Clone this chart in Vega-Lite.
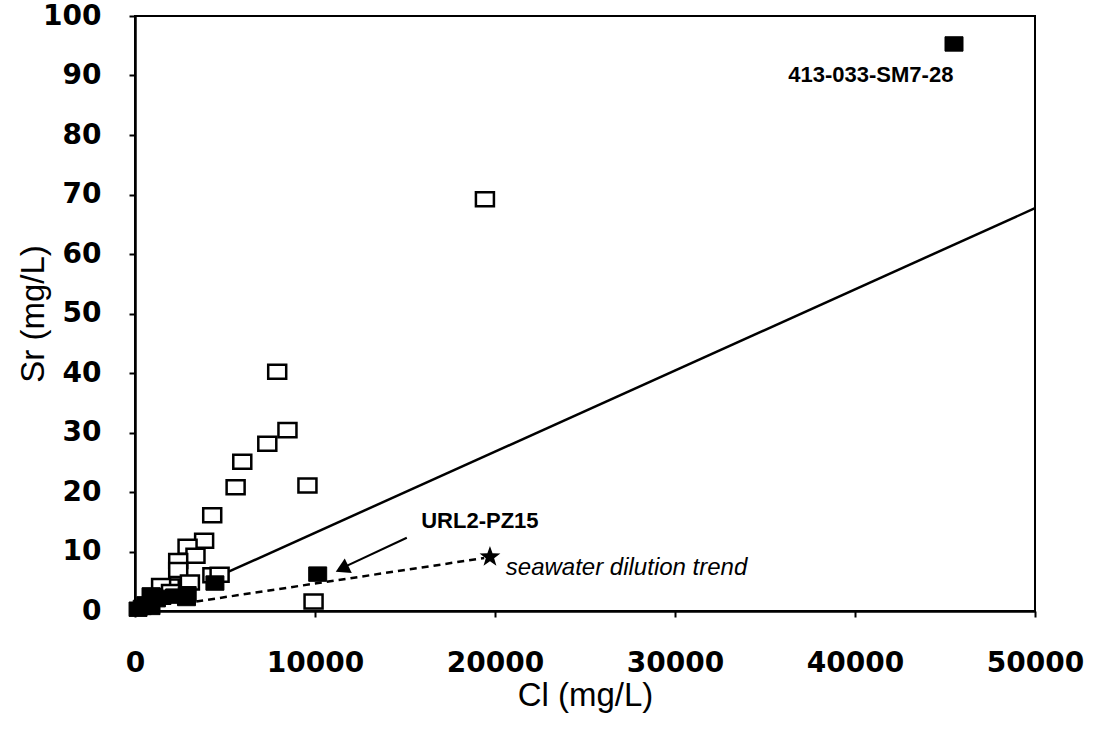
{
  "$schema": "https://vega.github.io/schema/vega-lite/v6.json",
  "width": 900,
  "height": 595,
  "autosize": {"type": "none"},
  "padding": {"left": 135, "top": 16, "right": 65, "bottom": 125},
  "background": "white",
  "config": {
    "view": {"stroke": "black", "strokeWidth": 2},
    "axis": {
      "grid": false,
      "labelFlush": false,
      "labelOverlap": false,
      "domainColor": "black",
      "domainWidth": 2.5,
      "tickColor": "black",
      "tickWidth": 2,
      "tickSize": 6,
      "labelFont": "DejaVu Sans",
      "labelFontWeight": "bold",
      "labelFontSize": 28,
      "labelColor": "black",
      "titleFont": "Liberation Sans",
      "titleFontWeight": "normal",
      "titleFontSize": 33,
      "titleColor": "black"
    }
  },
  "encoding": {
    "x": {
      "field": "x",
      "type": "quantitative",
      "scale": {"domain": [0, 50000], "nice": false, "zero": false},
      "axis": {
        "orient": "bottom",
        "values": [0, 10000, 20000, 30000, 40000, 50000],
        "format": "d",
        "labelPadding": 32,
        "titlePadding": 2,
        "title": "Cl (mg/L)"
      }
    },
    "y": {
      "field": "y",
      "type": "quantitative",
      "scale": {"domain": [0, 100], "nice": false, "zero": false},
      "axis": {
        "orient": "left",
        "values": [0, 10, 20, 30, 40, 50, 60, 70, 80, 90, 100],
        "labelPadding": 28,
        "titlePadding": -8,
        "title": "Sr (mg/L)"
      }
    }
  },
  "layer": [
    {"data": {"values": [{"x": 5200, "y": 6.6}, {"x": 50000, "y": 67.7}]}, "mark": {"type": "line", "color": "black", "strokeWidth": 2.5}},
    {"data": {"values": [{"x": 3400, "y": 1.6}, {"x": 19400, "y": 8.9}]}, "mark": {"type": "line", "color": "black", "strokeWidth": 2.5, "strokeDash": [7, 5]}},
    {"data": {"values": [{"x": 15100, "y": 12.3}, {"x": 11700, "y": 7.5}]}, "mark": {"type": "line", "color": "black", "strokeWidth": 2.2}},
    {"data": {"values": [{"x": 11500, "y": 7.1}]}, "mark": {"type": "point", "shape": "triangle-up", "angle": 244, "size": 260, "filled": true, "fill": "black", "opacity": 1}},
    {"data": {"values": [
      {"x": 19440, "y": 69.2}, {"x": 7900, "y": 40.2}, {"x": 8470, "y": 30.4}, {"x": 7350, "y": 28.1},
      {"x": 5960, "y": 25.1}, {"x": 5590, "y": 20.8}, {"x": 9580, "y": 21.1}, {"x": 4290, "y": 16.1},
      {"x": 3840, "y": 11.8}, {"x": 2920, "y": 10.8}, {"x": 3360, "y": 9.3}, {"x": 2400, "y": 8.4},
      {"x": 2400, "y": 6.9}, {"x": 1930, "y": 4.1}, {"x": 3050, "y": 4.8}, {"x": 1450, "y": 4.2},
      {"x": 4300, "y": 6.0}, {"x": 4700, "y": 6.1}, {"x": 9920, "y": 1.6}, {"x": 1000, "y": 2.5},
      {"x": 2000, "y": 3.2}
    ]}, "mark": {"type": "point", "shape": "M-1,-0.78L1,-0.78L1,0.78L-1,0.78Z", "size": 324, "filled": true, "fill": "white", "stroke": "black", "strokeWidth": 2.5, "opacity": 1}},
    {"data": {"values": [
      {"x": 45500, "y": 95.3}, {"x": 10150, "y": 6.2}, {"x": 4440, "y": 4.7}, {"x": 2860, "y": 2.1},
      {"x": 2900, "y": 2.9}, {"x": 1190, "y": 1.9}, {"x": 890, "y": 2.7}, {"x": 600, "y": 1.2},
      {"x": 170, "y": 0.3}, {"x": 400, "y": 0.6}, {"x": 890, "y": 0.6}, {"x": 1500, "y": 2.3},
      {"x": 2200, "y": 2.5}
    ]}, "mark": {"type": "point", "shape": "M-1,-0.8L1,-0.8L1,0.8L-1,0.8Z", "size": 324, "filled": true, "fill": "black", "stroke": "black", "strokeWidth": 1, "opacity": 1}},
    {"data": {"values": [{"x": 19720, "y": 9.1}]}, "mark": {"type": "point", "shape": "M0,-1L0.235,-0.324L0.951,-0.309L0.38,0.124L0.588,0.809L0,0.4L-0.588,0.809L-0.38,0.124L-0.951,-0.309L-0.235,-0.324Z", "size": 480, "filled": true, "fill": "black", "opacity": 1}},
    {"data": {"values": [
      {"x": 40880, "y": 88.9, "label": "413-033-SM7-28"},
      {"x": 19160, "y": 13.95, "label": "URL2-PZ15"}
    ]}, "mark": {"type": "text", "font": "Liberation Sans", "fontWeight": "bold", "fontSize": 22, "align": "center", "baseline": "alphabetic", "color": "black"}, "encoding": {"text": {"field": "label", "type": "nominal"}}},
    {"data": {"values": [{"x": 20600, "y": 6.05, "label": "seawater dilution trend"}]}, "mark": {"type": "text", "font": "Liberation Sans", "fontStyle": "italic", "fontSize": 24, "align": "left", "baseline": "alphabetic", "color": "black"}, "encoding": {"text": {"field": "label", "type": "nominal"}}}
  ]
}
